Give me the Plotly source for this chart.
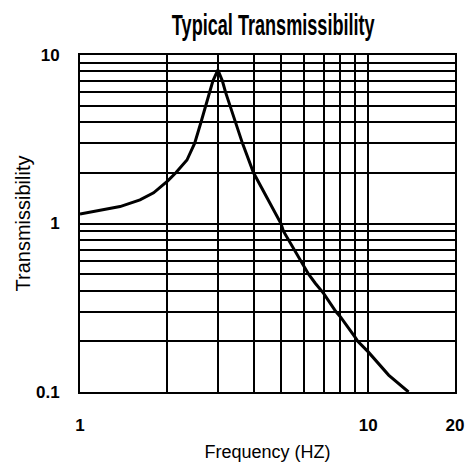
import plotly.graph_objects as go

# Curve (frequency in Hz, transmissibility)
freq = [1.0, 1.2, 1.377, 1.615, 1.80, 2.016, 2.15, 2.35, 2.50, 2.63, 2.73, 2.83, 2.89, 3.01,
        3.12, 3.20, 3.32, 3.47, 3.66, 4.0, 4.98, 5.08, 5.29, 5.51, 5.81, 6.21, 6.55, 7.0,
        7.72, 8.0, 9.0, 9.2, 10.0, 11.77, 13.8]
trans = [1.14, 1.21, 1.26, 1.38, 1.52, 1.79, 2.0, 2.38, 3.0, 4.0, 5.0, 6.0, 7.0, 8.15,
         7.0, 6.0, 5.0, 4.0, 3.0, 2.0, 1.0, 0.9, 0.8, 0.7, 0.6, 0.5, 0.442, 0.385,
         0.3, 0.28, 0.212, 0.2, 0.173, 0.126, 0.1]

x_tickvals = [1, 2, 3, 4, 5, 6, 7, 8, 9, 10, 20]
x_ticktext = ["1", "", "", "", "", "", "", "", "", "10", "20"]
y_tickvals = [0.1, 0.2, 0.3, 0.4, 0.5, 0.6, 0.7, 0.8, 0.9,
              1, 2, 3, 4, 5, 6, 7, 8, 9, 10]
y_ticktext = ["0.1", "", "", "", "", "", "", "", "",
              "1", "", "", "", "", "", "", "", "", "10"]

fig = go.Figure()
fig.add_trace(go.Scatter(x=freq, y=trans, mode="lines",
                         line=dict(color="black", width=3),
                         showlegend=False, hoverinfo="skip"))

fig.update_layout(
    width=467, height=463,
    margin=dict(l=80, r=12, t=55, b=71),
    paper_bgcolor="white", plot_bgcolor="white",
    title=dict(text="<b>Typical Transmissibility</b>", x=0.585, xref="container", xanchor="center",
               y=0.946, yref="container", yanchor="middle",
               font=dict(family="Liberation Sans, Arial, sans-serif", size=30, color="black")),
    font=dict(family="Liberation Sans, Arial, sans-serif", color="black"),
)

fig.update_xaxes(type="log", range=[0, 1.30103], automargin=False,
                 tickvals=x_tickvals, ticktext=x_ticktext,
                 showgrid=True, gridcolor="black", gridwidth=2,
                 showline=True, linecolor="black", linewidth=2, mirror=True,
                 ticks="", ticklabelstandoff=17, zeroline=False,
                 tickfont=dict(size=17, weight="bold"),
                 title=dict(text="Frequency (HZ)", font=dict(size=18), standoff=11))
fig.update_yaxes(type="log", range=[-1, 1], automargin=False,
                 tickvals=y_tickvals, ticktext=y_ticktext,
                 showgrid=True, gridcolor="black", gridwidth=2,
                 showline=True, linecolor="black", linewidth=2, mirror=True,
                 ticks="", ticklabelstandoff=15, zeroline=False,
                 tickfont=dict(size=17, weight="bold"),
                 title=dict(text="Transmissibility", font=dict(size=20), standoff=0))

# Remove the page margin and condense the title to mimic the reference's narrow typeface
page_js = """
document.body.style.margin = '0';
var t = document.querySelector('.gtitle');
if (t) {
  var b = t.getBBox();
  var s = 203 / b.width;
  var cx = b.x + b.width / 2;
  t.setAttribute('transform', 'translate(' + cx + ',0) scale(' + s + ',1) translate(' + (-cx) + ',0)');
}
"""

fig.write_html("out.html", post_script=page_js, config={"displayModeBar": False})
